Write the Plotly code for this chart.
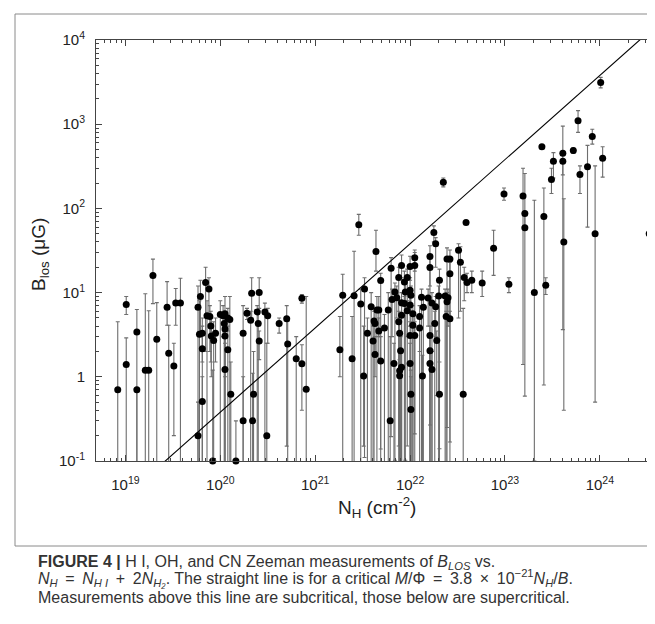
import plotly.graph_objects as go

# ---------------- data ----------------
# column density N_H (cm^-2)
NH = [
    8.3e18, 1.02e19, 1.02e19, 1.32e19, 1.32e19, 1.62e19, 1.76e19, 1.95e19, 2.14e19, 2.75e19,
    2.86e19, 3.24e19, 3.39e19, 3.80e19, 5.82e19, 6.17e19, 7.0e19, 7.59e19, 7.24e19, 7.76e19,
    7.94e19, 6.03e19, 6.46e19, 6.46e19, 8.04e19, 8.51e19, 8.91e19, 6.46e19, 1.00e20, 1.07e20,
    1.12e20, 1.20e20, 1.26e20, 1.10e20, 1.12e20, 1.12e20, 1.20e20, 1.12e20, 1.29e20, 5.82e19,
    8.32e19, 1.46e20, 1.74e20, 1.91e20, 2.09e20, 2.14e20, 2.57e20, 2.45e20, 2.51e20, 2.57e20,
    2.95e20, 3.16e20, 2.24e20, 1.74e20, 2.19e20, 3.09e20, 4.17e20, 5.01e20, 5.13e20, 6.31e20,
    7.24e20, 7.24e20, 8.04e20,
    1.82e21, 1.95e21, 2.45e21, 2.57e21, 2.88e21, 3.02e21, 3.24e21, 3.31e21, 3.89e21, 4.17e21,
    4.27e21, 3.55e21, 4.07e21, 4.27e21, 4.37e21, 4.47e21, 4.90e21, 4.68e21, 5.89e21, 5.37e21,
    4.68e21, 4.90e21, 6.17e21, 6.31e21,
    8.13e21, 1.00e22, 1.12e22, 1.12e22, 1.62e22, 1.62e22, 2.45e22, 2.63e22, 2.63e22, 2.04e22,
    3.72e22, 3.98e22, 4.47e22, 5.75e22, 7.59e21, 8.71e21, 9.33e21, 6.92e21, 7.24e21, 8.91e21,
    1.00e22, 1.02e22, 6.46e21, 8.13e21, 8.71e21, 1.00e22, 1.32e22, 1.55e22, 1.70e22, 1.86e22,
    2.00e22, 2.34e22, 2.51e22, 2.45e22, 1.38e22, 8.13e21, 7.59e21, 9.33e21, 1.07e22, 1.26e22,
    1.07e22, 1.26e22, 1.00e22, 1.12e22, 7.76e21, 1.82e22, 1.62e22, 1.91e22, 2.40e22, 2.63e22,
    7.94e21, 6.76e21, 8.13e21, 7.76e21, 7.76e21, 1.00e22, 1.62e22, 1.62e22, 1.70e22, 1.35e22,
    1.02e22, 1.02e22, 2.04e22, 3.63e22, 1.78e22, 1.86e22, 3.24e22, 3.39e22, 7.59e22, 1.10e23,
    2.24e22, 3.89e22,
    1.02e24, 5.89e23, 8.32e23, 2.45e23, 5.25e23, 4.07e23, 3.24e23, 4.07e23, 1.07e24, 6.17e23,
    7.41e23, 3.09e23, 9.77e22, 1.55e23, 1.62e23, 1.62e23, 2.57e23, 8.91e23, 3.31e24, 2.04e23,
    2.69e23, 4.17e23,
]
# line-of-sight field B_los (microgauss)
B = [
    0.70, 7.2, 1.4, 3.4, 0.70, 1.2, 1.2, 16, 2.8, 6.7,
    1.9, 1.34, 7.5, 7.5, 6.7, 9.0, 13.2, 11, 5.3, 5.2,
    4.0, 3.2, 3.3, 2.15, 3.05, 2.7, 3.3, 0.51, 5.5, 5.3,
    5.6, 5.0, 4.8, 4.3, 3.7, 3.05, 2.1, 1.22, 0.62, 0.2,
    0.1, 0.1, 3.3, 5.7, 4.7, 9.8, 10, 5.9, 4.3, 2.66,
    5.9, 5.3, 0.62, 0.3, 0.3, 0.2, 4.3, 4.9, 2.45, 1.64,
    8.55, 1.43, 0.71,
    2.1, 9.3, 1.64, 9.2, 64, 7.3, 1.02, 11, 6.8, 4.6,
    4.3, 3.3, 2.66, 1.84, 30.8, 6.2, 13.9, 6.2, 6.2, 3.8,
    3.5, 1.54, 0.3, 19.5,
    21, 20.4, 21, 26, 26.8, 19.9, 25, 25, 16.8, 14,
    15.1, 13.2, 14, 13, 15.1, 13.4, 15.1, 10.2, 8.7, 10.2,
    10.7, 9.3, 8.3, 7.6, 7.4, 7.1, 8.8, 8.6, 7.5, 6.8,
    9.1, 9.1, 8.7, 7.8, 6.7, 5.4, 4.5, 6.1, 5.6, 5.2,
    4.1, 3.8, 3.1, 3.1, 3.3, 4.3, 3.1, 2.7, 5.2, 4.9,
    2.04, 1.44, 1.3, 1.18, 1.03, 1.44, 2.04, 1.44, 1.22, 1.02,
    0.62, 0.41, 0.62, 0.62, 51.8, 38, 31.8, 23, 33.6, 12.6,
    205, 68,
    3130, 1100, 714, 540, 486, 452, 363, 363, 394, 252,
    313, 221, 148, 140, 87, 59, 80, 50, 50, 10,
    12.2, 40,
]
# upper end of error bar (None = no upper bar)
B_hi = [
    4.5, 9.0, 2.9, 6.3, None, 9.7, 6.1, 25, 7.6, 13.5,
    4.1, 2.5, 11.2, 14.8, 12, 14, 20, 15, 8, 7,
    6, 8, 5, 4, 5, 4.5, 5, 1.0, 8, 7,
    9, 6.5, 9, 6, 5, 5.5, 4, 2.5, 1.5, 0.5,
    1.2, 0.3, 7, 6.5, 6, 15, 15, 7, 6, 3.5,
    7.5, 6.5, 2, 1, 1.1, 2.5, 5, 7, 4.6, 3.0,
    9.5, 2.4, 9,
    5.2, 16.5, 5.2, 31, 85, 11, 4, 15, 10, 6,
    6, 5, 4, 3, 55, 9, 17, 9, 10, 5.5,
    5, 3, 3, 26,
    28, 27, 30, 32, 36, 27, 34, 32, 23, 19,
    20, 17, 18, 18, 20, 18, 19, 13, 12, 14,
    15, 12, 11, 10, 9, 9, 11, 11, 10, 9,
    12, 11, 11, 10, 8.5, 7, 6, 8, 7, 7,
    5.5, 5, 4.5, 4.5, 4.5, 6, 4, 3.5, 6, 6,
    3, 2.5, 2, 2, 1.6, 2.5, 3, 2.2, 2, 1.8,
    1.2, 1, 1.5, 6.5, 62, 45, 38, 35, 55, 15,
    230, None,
    3600, 1450, 870, None, 520, 950, 460, None, 540, 320,
    560, 300, 175, 300, 260, 87, 175, 320, 500, 125,
    15, 130,
]
# lower end of error bar (0 = bar runs off the bottom, None = no lower bar)
B_lo = [
    0, 5.5, 0, 0, 0, 0, 0, 7.4, 0, 4.1,
    0, 0.2, 4.1, 0, 0, 3, 2.0, 5, 0, 2,
    1.5, 0, 1.5, 0, 1, 0, 1.5, 0, 0, 3,
    0, 3.5, 0, 0, 1, 0, 0, 0, 0, 0,
    None, None, 0, 4.8, 0, 5, 6.5, 0, 0, 1.6,
    0, 2.5, 0, 0, 0, 0, 3.3, 0.15, 0, 0,
    7.5, 0.4, 0,
    1.0, 0, 0, 0, 48, 0, 0.15, 0, 0, 0,
    2, 0, 0, 1, 18, 0, 0, 3, 0, 0,
    1.5, 0, 0, 0,
    15, 14, 0, 18, 0, 12, 0, 5, 0, 0,
    8, 10, 10, 9, 0, 8, 0, 0, 5, 0,
    6, 0, 3, 0, 0, 4, 0, 4, 0, 3,
    0, 0, 4, 0, 0, 0, 0, 3, 0, 0,
    0, 2, 0, 0, 0, 0, 0, 0.6, 0, 0,
    0, 0, 0, 0, 0, 0, 0, 0, 0, 0,
    0, 0, 0, 0, 40, 20, 5, 6, 16, 10,
    180, None,
    2700, 800, 580, None, 450, 250, 230, 0, 235, 150,
    60, 150, 125, 0, 60, 0, 0, 0, 0, 0,
    9.5, 0,
]

# critical mass-to-flux line: M/Phi = 3.8e-21 N_H / B = 1
crit_coeff = 3.8e-21
line_NH = [1e18, 1e26]

x_ticks = [1e19, 1e20, 1e21, 1e22, 1e23, 1e24]
x_ticktext = ["10<sup>19</sup>", "10<sup>20</sup>", "10<sup>21</sup>",
              "10<sup>22</sup>", "10<sup>23</sup>", "10<sup>24</sup>"]
y_ticks = [0.1, 1, 10, 100, 1000, 10000]
y_ticktext = ["10<sup>-1</sup>", "1", "10<sup>1</sup>", "10<sup>2</sup>",
              "10<sup>3</sup>", "10<sup>4</sup>"]

# ---------------- derived ----------------
err_plus = [(h - b) if h is not None else 0 for b, h in zip(B, B_hi)]
err_minus = []
for b, l in zip(B, B_lo):
    if l is None:
        err_minus.append(0)
    elif l == 0:
        err_minus.append(b * 0.99)
    else:
        err_minus.append(b - l)

minor_x = [float(k) * 10.0 ** e for e in range(18, 26) for k in range(2, 10)]
minor_y = [float(k) * 10.0 ** e for e in range(-2, 5) for k in range(2, 10)]

FONT = "Liberation Sans, Arial, Helvetica, sans-serif"
AX = "#444444"

fig = go.Figure()

# error bars (clipped to the plot area)
fig.add_trace(go.Scatter(
    x=NH, y=B, mode="markers",
    marker=dict(size=2, color="rgba(0,0,0,0)"),
    error_y=dict(type="data", symmetric=False, array=err_plus, arrayminus=err_minus,
                 color="#6e6e6e", thickness=1.1, width=2),
    cliponaxis=True, hoverinfo="skip", showlegend=False,
))

# critical line
fig.add_trace(go.Scatter(
    x=line_NH, y=[crit_coeff * n for n in line_NH], mode="lines",
    line=dict(color="black", width=1.1), cliponaxis=True,
    hoverinfo="skip", showlegend=False,
))

# data points
fig.add_trace(go.Scatter(
    x=NH, y=B, mode="markers",
    marker=dict(size=7, color="black"),
    cliponaxis=False, showlegend=False,
))

axis_common = dict(
    type="log", showline=True, linecolor=AX, linewidth=1, mirror="allticks",
    ticks="inside", ticklen=6, tickcolor=AX, tickwidth=1,
    showgrid=False, zeroline=False,
    tickfont=dict(family=FONT, size=15, color="#222222"),
)

fig.update_xaxes(
    **axis_common, range=[18.69, 24.56], tickmode="array",
    tickvals=x_ticks, ticktext=x_ticktext, ticklabelstandoff=10,
    minor=dict(ticks="inside", ticklen=3, tickcolor=AX, tickmode="array",
               tickvals=minor_x, showgrid=False),
)
fig.update_yaxes(
    **axis_common, range=[-1, 4], tickmode="array",
    tickvals=y_ticks, ticktext=y_ticktext, ticklabelstandoff=7,
    minor=dict(ticks="inside", ticklen=3, tickcolor=AX, tickmode="array",
               tickvals=minor_y, showgrid=False),
)

W, H = 655, 624
L, R, T, Bm = 88, 10, 32, 171
pw, ph = W - L - R, H - T - Bm


def px(xp):
    return (xp - L) / pw


def py(yp):
    return (H - Bm - yp) / ph


CAP = 16
annotations = [
    dict(text="B<sub>los</sub> (μG)", x=px(32), y=py(247), textangle=-90,
         font=dict(family=FONT, size=19, color="#222222")),
    dict(text="N<sub>H</sub> (cm<sup>-2</sup>)", x=px(369), y=py(500),
         font=dict(family=FONT, size=19, color="#222222")),
    dict(text="<b>FIGURE 4 |</b> H I, OH, and CN Zeeman measurements of <i>B<sub>LOS</sub></i> vs.",
         x=px(28), y=py(554), xanchor="left",
         font=dict(family=FONT, size=CAP, color="#333333")),
    dict(text="<i>N<sub>H</sub></i> \u2009=\u2009 <i>N<sub>H I</sub></i> \u2009+\u2009 "
              "2<i>N<sub>H₂</sub></i>. "
              "The straight line is for a critical <i>M</i>/Φ \u2009=\u2009 3.8 \u2009×\u2009 "
              "10<sup>−21</sup><i>N<sub>H</sub></i>/<i>B</i>.",
         x=px(28), y=py(570), xanchor="left",
         font=dict(family=FONT, size=CAP, color="#333333")),
    dict(text="Measurements above this line are subcritical, those below are supercritical.",
         x=px(28), y=py(589), xanchor="left",
         font=dict(family=FONT, size=CAP, color="#333333")),
]
for a in annotations:
    a.update(xref="paper", yref="paper", showarrow=False, yanchor="middle")
    a.setdefault("xanchor", "center")

fig.update_layout(
    width=W, height=H,
    margin=dict(l=L, r=R, t=T, b=Bm, autoexpand=False),
    paper_bgcolor="white", plot_bgcolor="white",
    annotations=annotations,
    shapes=[dict(type="rect", xref="paper", yref="paper",
                 x0=px(7), x1=px(651), y0=py(538), y1=py(6),
                 line=dict(color="#8a8a8a", width=1), layer="below")],
    font=dict(family=FONT),
)

fig.write_html("out.html")
